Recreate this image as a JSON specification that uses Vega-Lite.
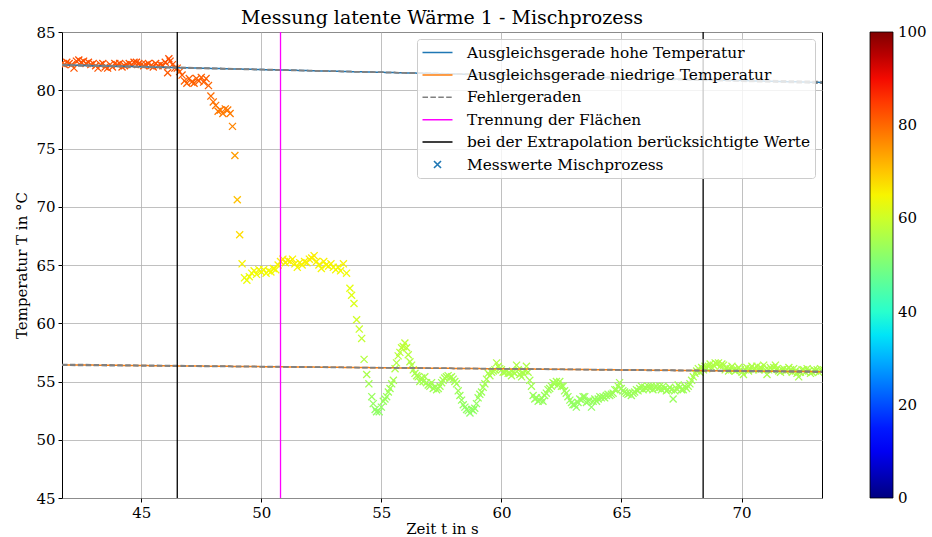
{
"$schema": "https://vega.github.io/schema/vega-lite/v6.json",
"width": 760, "height": 466,
"autosize": {"type": "none"},
"padding": {"left": 62, "top": 32, "right": 110, "bottom": 39},
"background": "white",
"title": {"text": "Messung latente Wärme 1 - Mischprozess", "font": "DejaVu Serif", "fontSize": 19, "fontWeight": "normal", "color": "black", "offset": -3, "frame": "group", "anchor": "middle"},
"datasets": {
"points": [
{"zeit":41.7,"temp":82.3},{"zeit":41.8,"temp":82.2},{"zeit":41.9,"temp":82.4},{"zeit":42.0,"temp":82.3},{"zeit":42.1,"temp":82.2},{"zeit":42.2,"temp":81.9},{"zeit":42.3,"temp":82.5},{"zeit":42.4,"temp":82.6},{"zeit":42.5,"temp":82.4},{"zeit":42.6,"temp":82.5},{"zeit":42.7,"temp":82.3},{"zeit":42.8,"temp":82.4},{"zeit":42.9,"temp":82.2},{"zeit":43.0,"temp":82.3},{"zeit":43.1,"temp":82.1},{"zeit":43.2,"temp":81.9},{"zeit":43.3,"temp":82.2},{"zeit":43.4,"temp":82.3},{"zeit":43.5,"temp":82.0},{"zeit":43.6,"temp":81.9},{"zeit":43.7,"temp":82.2},{"zeit":43.8,"temp":82.0},{"zeit":43.9,"temp":82.3},{"zeit":44.0,"temp":82.2},{"zeit":44.1,"temp":82.3},{"zeit":44.2,"temp":82.0},{"zeit":44.3,"temp":82.1},{"zeit":44.4,"temp":82.2},{"zeit":44.5,"temp":82.3},{"zeit":44.6,"temp":82.2},{"zeit":44.7,"temp":82.4},{"zeit":44.8,"temp":82.4},{"zeit":44.9,"temp":82.3},{"zeit":45.0,"temp":82.2},{"zeit":45.1,"temp":82.1},{"zeit":45.2,"temp":82.2},{"zeit":45.3,"temp":82.3},{"zeit":45.4,"temp":82.1},{"zeit":45.5,"temp":82.0},{"zeit":45.6,"temp":82.3},{"zeit":45.7,"temp":82.1},{"zeit":45.8,"temp":82.2},{"zeit":45.9,"temp":82.1},{"zeit":46.0,"temp":82.4},{"zeit":46.1,"temp":81.5},{"zeit":46.15,"temp":82.7},{"zeit":46.2,"temp":82.5},{"zeit":46.3,"temp":82.2},{"zeit":46.4,"temp":81.9},{"zeit":46.5,"temp":81.9},
{"zeit":46.6,"temp":81.6},{"zeit":46.7,"temp":81.3},{"zeit":46.8,"temp":80.8},{"zeit":46.9,"temp":80.6},{"zeit":47.0,"temp":81.0},{"zeit":47.1,"temp":80.7},{"zeit":47.2,"temp":80.6},{"zeit":47.3,"temp":81.0},{"zeit":47.4,"temp":80.8},{"zeit":47.5,"temp":81.1},{"zeit":47.6,"temp":80.7},{"zeit":47.7,"temp":81.0},{"zeit":47.8,"temp":80.4},{"zeit":47.9,"temp":79.5},{"zeit":48.0,"temp":79.0},{"zeit":48.1,"temp":78.7},{"zeit":48.2,"temp":78.2},{"zeit":48.3,"temp":78.3},{"zeit":48.4,"temp":78.0},{"zeit":48.5,"temp":78.4},{"zeit":48.6,"temp":78.3},{"zeit":48.7,"temp":78.0},{"zeit":48.8,"temp":76.9},{"zeit":48.9,"temp":74.4},{"zeit":49.0,"temp":70.6},{"zeit":49.1,"temp":67.6},{"zeit":49.2,"temp":65.1},
{"zeit":49.3,"temp":63.9},{"zeit":49.4,"temp":63.7},{"zeit":49.5,"temp":64.0},{"zeit":49.6,"temp":64.3},{"zeit":49.7,"temp":64.5},{"zeit":49.8,"temp":64.2},{"zeit":49.9,"temp":64.6},{"zeit":50.0,"temp":64.4},{"zeit":50.1,"temp":64.6},{"zeit":50.2,"temp":64.3},{"zeit":50.3,"temp":64.5},{"zeit":50.4,"temp":64.4},{"zeit":50.5,"temp":64.7},{"zeit":50.6,"temp":64.6},{"zeit":50.7,"temp":65.0},{"zeit":50.8,"temp":65.3},{"zeit":50.9,"temp":65.5},{"zeit":51.0,"temp":65.2},{"zeit":51.1,"temp":65.4},{"zeit":51.2,"temp":65.3},{"zeit":51.3,"temp":65.5},{"zeit":51.4,"temp":65.1},{"zeit":51.5,"temp":64.8},{"zeit":51.6,"temp":65.2},{"zeit":51.7,"temp":65.0},{"zeit":51.8,"temp":65.3},{"zeit":51.9,"temp":65.2},{"zeit":52.0,"temp":65.5},{"zeit":52.1,"temp":65.6},{"zeit":52.2,"temp":65.8},{"zeit":52.3,"temp":65.3},{"zeit":52.4,"temp":65.0},{"zeit":52.5,"temp":64.7},{"zeit":52.6,"temp":65.3},{"zeit":52.7,"temp":65.0},{"zeit":52.8,"temp":64.9},{"zeit":52.9,"temp":65.1},{"zeit":53.0,"temp":64.8},{"zeit":53.1,"temp":64.6},{"zeit":53.2,"temp":64.8},{"zeit":53.3,"temp":64.5},{"zeit":53.42,"temp":65.1},
{"zeit":53.55,"temp":64.3},{"zeit":53.69,"temp":63.0},{"zeit":53.76,"temp":62.4},{"zeit":53.86,"temp":61.7},{"zeit":53.97,"temp":60.3},{"zeit":54.08,"temp":59.5},{"zeit":54.18,"temp":58.7},{"zeit":54.28,"temp":56.9},{"zeit":54.39,"temp":55.6},{"zeit":54.48,"temp":54.8},{"zeit":54.6,"temp":53.7},{"zeit":54.66,"temp":53.1},{"zeit":54.74,"temp":52.6},{"zeit":54.8,"temp":52.4},{"zeit":54.91,"temp":52.4},{"zeit":55.0,"temp":52.8},{"zeit":55.08,"temp":53.3},{"zeit":55.15,"temp":53.5},{"zeit":55.22,"temp":53.7},{"zeit":55.29,"temp":54.1},{"zeit":55.36,"temp":54.4},{"zeit":55.43,"temp":54.8},{"zeit":55.5,"temp":55.1},{"zeit":55.57,"temp":56.1},{"zeit":55.63,"temp":56.6},{"zeit":55.7,"temp":57.2},{"zeit":55.77,"temp":57.5},{"zeit":55.84,"temp":57.9},{"zeit":55.91,"temp":58.0},{"zeit":55.98,"temp":58.3},{"zeit":56.05,"temp":57.9},{"zeit":56.12,"temp":57.3},{"zeit":56.19,"temp":56.7},{"zeit":56.26,"temp":56.4},{"zeit":56.33,"temp":56.0},{"zeit":56.4,"temp":55.7},{"zeit":56.47,"temp":55.5},{"zeit":56.53,"temp":55.4},{"zeit":56.6,"temp":55.0},{"zeit":56.68,"temp":55.3},{"zeit":56.74,"temp":55.0},{"zeit":56.81,"temp":55.4},{"zeit":56.88,"temp":54.9},{"zeit":56.95,"temp":54.7},{"zeit":57.02,"temp":54.6},{"zeit":57.09,"temp":54.9},{"zeit":57.16,"temp":54.4},{"zeit":57.23,"temp":54.5},{"zeit":57.3,"temp":54.3},{"zeit":57.37,"temp":54.4},{"zeit":57.44,"temp":54.6},{"zeit":57.51,"temp":54.9},{"zeit":57.57,"temp":55.1},{"zeit":57.64,"temp":55.3},{"zeit":57.71,"temp":55.4},{"zeit":57.78,"temp":55.5},{"zeit":57.85,"temp":55.3},{"zeit":57.92,"temp":55.4},{"zeit":57.99,"temp":55.2},{"zeit":58.06,"temp":55.0},{"zeit":58.13,"temp":54.8},{"zeit":58.2,"temp":54.2},{"zeit":58.27,"temp":53.8},{"zeit":58.34,"temp":53.4},{"zeit":58.41,"temp":53.0},{"zeit":58.48,"temp":52.8},{"zeit":58.55,"temp":52.6},{"zeit":58.62,"temp":52.5},{"zeit":58.69,"temp":52.3},{"zeit":58.76,"temp":52.6},{"zeit":58.83,"temp":52.5},{"zeit":58.89,"temp":52.7},{"zeit":58.96,"temp":53.1},{"zeit":59.03,"temp":53.6},{"zeit":59.1,"temp":53.9},{"zeit":59.17,"temp":54.1},{"zeit":59.24,"temp":54.5},{"zeit":59.31,"temp":54.8},{"zeit":59.38,"temp":55.2},{"zeit":59.45,"temp":55.7},{"zeit":59.52,"temp":55.5},{"zeit":59.59,"temp":55.8},{"zeit":59.66,"temp":55.9},{"zeit":59.73,"temp":56.0},{"zeit":59.8,"temp":56.6},{"zeit":59.87,"temp":56.3},{"zeit":59.93,"temp":56.1},{"zeit":60.0,"temp":56.0},{"zeit":60.07,"temp":55.8},{"zeit":60.14,"temp":55.8},{"zeit":60.21,"temp":55.9},{"zeit":60.28,"temp":55.7},{"zeit":60.35,"temp":55.7},{"zeit":60.42,"temp":55.5},{"zeit":60.49,"temp":55.8},{"zeit":60.56,"temp":55.7},{"zeit":60.63,"temp":56.4},{"zeit":60.7,"temp":56.0},{"zeit":60.77,"temp":55.6},{"zeit":60.84,"temp":55.4},{"zeit":60.91,"temp":55.7},{"zeit":60.98,"temp":55.9},{"zeit":61.04,"temp":56.3},{"zeit":61.11,"temp":55.8},{"zeit":61.18,"temp":55.1},{"zeit":61.25,"temp":54.6},{"zeit":61.32,"temp":53.8},{"zeit":61.39,"temp":53.5},{"zeit":61.46,"temp":53.6},{"zeit":61.53,"temp":53.3},{"zeit":61.6,"temp":53.4},{"zeit":61.67,"temp":53.6},{"zeit":61.73,"temp":53.3},{"zeit":61.8,"temp":53.8},{"zeit":61.87,"temp":54.0},{"zeit":61.94,"temp":54.3},{"zeit":62.01,"temp":54.4},{"zeit":62.08,"temp":54.6},{"zeit":62.15,"temp":54.9},{"zeit":62.22,"temp":54.8},{"zeit":62.29,"temp":55.0},{"zeit":62.36,"temp":54.7},{"zeit":62.43,"temp":55.0},{"zeit":62.5,"temp":54.6},{"zeit":62.57,"temp":54.6},{"zeit":62.63,"temp":54.2},{"zeit":62.7,"temp":54.0},{"zeit":62.77,"temp":53.7},{"zeit":62.85,"temp":53.4},{"zeit":62.92,"temp":53.2},{"zeit":62.98,"temp":53.0},{"zeit":63.05,"temp":53.0},{"zeit":63.12,"temp":52.8},{"zeit":63.19,"temp":53.2},{"zeit":63.26,"temp":53.5},{"zeit":63.33,"temp":53.4},{"zeit":63.4,"temp":53.7},{"zeit":63.47,"temp":53.7},{"zeit":63.54,"temp":53.2},{"zeit":63.61,"temp":53.3},{"zeit":63.68,"temp":53.4},{"zeit":63.75,"temp":52.8},{"zeit":63.82,"temp":53.3},{"zeit":63.89,"temp":53.5},{"zeit":63.96,"temp":53.3},{"zeit":64.03,"temp":53.5},{"zeit":64.1,"temp":53.7},{"zeit":64.16,"temp":53.6},{"zeit":64.23,"temp":53.7},{"zeit":64.3,"temp":53.6},{"zeit":64.37,"temp":53.8},{"zeit":64.44,"temp":53.9},{"zeit":64.51,"temp":53.8},{"zeit":64.58,"temp":53.9},{"zeit":64.65,"temp":54.0},{"zeit":64.72,"temp":54.3},{"zeit":64.79,"temp":54.3},{"zeit":64.86,"temp":54.6},{"zeit":64.92,"temp":54.9},{"zeit":64.99,"temp":54.4},{"zeit":65.06,"temp":54.2},{"zeit":65.13,"temp":54.1},{"zeit":65.2,"temp":54.0},{"zeit":65.27,"temp":53.9},{"zeit":65.34,"temp":54.0},{"zeit":65.41,"temp":53.8},{"zeit":65.48,"temp":54.0},{"zeit":65.55,"temp":54.1},{"zeit":65.62,"temp":54.3},{"zeit":65.69,"temp":54.2},{"zeit":65.76,"temp":54.4},{"zeit":65.83,"temp":54.6},{"zeit":65.9,"temp":54.3},{"zeit":65.97,"temp":54.5},{"zeit":66.04,"temp":54.4},{"zeit":66.11,"temp":54.6},{"zeit":66.18,"temp":54.4},{"zeit":66.24,"temp":54.6},{"zeit":66.31,"temp":54.3},{"zeit":66.38,"temp":54.5},{"zeit":66.45,"temp":54.6},{"zeit":66.52,"temp":54.4},{"zeit":66.59,"temp":54.6},{"zeit":66.66,"temp":54.3},{"zeit":66.73,"temp":54.6},{"zeit":66.8,"temp":54.4},{"zeit":66.87,"temp":54.2},{"zeit":66.94,"temp":54.3},{"zeit":67.01,"temp":54.5},{"zeit":67.08,"temp":54.3},{"zeit":67.15,"temp":53.5},{"zeit":67.22,"temp":54.2},{"zeit":67.29,"temp":54.4},{"zeit":67.36,"temp":54.7},{"zeit":67.43,"temp":54.5},{"zeit":67.5,"temp":54.3},{"zeit":67.57,"temp":54.3},{"zeit":67.64,"temp":54.6},{"zeit":67.71,"temp":54.4},{"zeit":67.78,"temp":54.6},{"zeit":67.85,"temp":54.8},{"zeit":67.92,"temp":55.1},{"zeit":67.99,"temp":55.4},{"zeit":68.06,"temp":55.7},{"zeit":68.13,"temp":55.9},{"zeit":68.2,"temp":56.1},{"zeit":68.27,"temp":55.8},{"zeit":68.34,"temp":56.2},{"zeit":68.41,"temp":56.0},{"zeit":68.48,"temp":56.3},{"zeit":68.55,"temp":56.1},{"zeit":68.62,"temp":56.3},{"zeit":68.69,"temp":56.5},{"zeit":68.76,"temp":56.2},{"zeit":68.83,"temp":56.4},{"zeit":68.9,"temp":56.6},{"zeit":68.97,"temp":56.5},{"zeit":69.04,"temp":56.6},{"zeit":69.11,"temp":56.3},{"zeit":69.18,"temp":56.5},{"zeit":69.25,"temp":56.4},{"zeit":69.32,"temp":56.0},{"zeit":69.39,"temp":56.2},{"zeit":69.46,"temp":55.9},{"zeit":69.53,"temp":56.1},{"zeit":69.6,"temp":56.3},{"zeit":69.67,"temp":56.0},{"zeit":69.74,"temp":55.9},{"zeit":69.81,"temp":56.0},{"zeit":69.88,"temp":56.2},{"zeit":69.95,"temp":56.0},{"zeit":70.02,"temp":55.8},{"zeit":70.08,"temp":55.6},{"zeit":70.15,"temp":56.0},{"zeit":70.22,"temp":56.2},{"zeit":70.29,"temp":55.9},{"zeit":70.36,"temp":56.1},{"zeit":70.43,"temp":56.3},{"zeit":70.5,"temp":56.0},{"zeit":70.57,"temp":56.1},{"zeit":70.64,"temp":56.3},{"zeit":70.71,"temp":56.0},{"zeit":70.78,"temp":56.2},{"zeit":70.85,"temp":56.1},{"zeit":70.92,"temp":56.4},{"zeit":70.99,"temp":56.0},{"zeit":71.06,"temp":55.6},{"zeit":71.13,"temp":56.0},{"zeit":71.2,"temp":56.2},{"zeit":71.27,"temp":56.0},{"zeit":71.34,"temp":56.2},{"zeit":71.41,"temp":56.4},{"zeit":71.48,"temp":56.1},{"zeit":71.55,"temp":55.9},{"zeit":71.62,"temp":55.8},{"zeit":71.69,"temp":56.0},{"zeit":71.76,"temp":56.1},{"zeit":71.83,"temp":55.9},{"zeit":71.9,"temp":56.0},{"zeit":71.97,"temp":56.2},{"zeit":72.04,"temp":56.0},{"zeit":72.11,"temp":55.8},{"zeit":72.17,"temp":56.1},{"zeit":72.24,"temp":55.9},{"zeit":72.31,"temp":55.7},{"zeit":72.38,"temp":55.4},{"zeit":72.45,"temp":55.8},{"zeit":72.52,"temp":56.0},{"zeit":72.59,"temp":56.0},{"zeit":72.66,"temp":55.8},{"zeit":72.73,"temp":56.1},{"zeit":72.8,"temp":55.9},{"zeit":72.87,"temp":55.7},{"zeit":72.94,"temp":55.8},{"zeit":73.01,"temp":56.0},{"zeit":73.08,"temp":55.9},{"zeit":73.15,"temp":56.0},{"zeit":73.22,"temp":55.8},{"zeit":73.29,"temp":56.1}
],
"fits": [
{"series":"Ausgleichsgerade hohe Temperatur","id":"h","zeit":41.7,"temp":82.17},
{"series":"Ausgleichsgerade hohe Temperatur","id":"h","zeit":73.35,"temp":80.67},
{"series":"Ausgleichsgerade niedrige Temperatur","id":"l","zeit":41.7,"temp":56.43},
{"series":"Ausgleichsgerade niedrige Temperatur","id":"l","zeit":73.35,"temp":55.84}
],
"errs": [
{"series":"Fehlergeraden","id":"e1","zeit":41.7,"temp":82.22},
{"series":"Fehlergeraden","id":"e1","zeit":73.35,"temp":80.6},
{"series":"Fehlergeraden","id":"e2","zeit":41.7,"temp":82.12},
{"series":"Fehlergeraden","id":"e2","zeit":73.35,"temp":80.74},
{"series":"Fehlergeraden","id":"e3","zeit":41.7,"temp":56.47},
{"series":"Fehlergeraden","id":"e3","zeit":73.35,"temp":55.8},
{"series":"Fehlergeraden","id":"e4","zeit":41.7,"temp":56.39},
{"series":"Fehlergeraden","id":"e4","zeit":73.35,"temp":55.88}
],
"vlines": [
{"series":"Trennung der Flächen","zeit":50.8},
{"series":"bei der Extrapolation berücksichtigte Werte","zeit":46.5},
{"series":"bei der Extrapolation berücksichtigte Werte","zeit":68.4}
]
},
"layer": [
{
"data": {"name": "points"},
"transform": [{"calculate": "'Messwerte Mischprozess'", "as": "series"}],
"mark": {"type": "point", "filled": false, "size": 225, "strokeWidth": 1.3, "opacity": 1, "clip": true},
"encoding": {
"x": {"field": "zeit", "type": "quantitative", "scale": {"domain": [41.7, 73.35], "nice": false, "zero": false}, "axis": {"values": [45,50,55,60,65,70], "format": "d", "title": "Zeit t in s", "labelPadding": 3, "titlePadding": 1}},
"y": {"field": "temp", "type": "quantitative", "scale": {"domain": [45, 85], "nice": false, "zero": false}, "axis": {"values": [45,50,55,60,65,70,75,80,85], "format": "d", "title": "Temperatur T in °C", "labelPadding": 3, "titlePadding": 6}},
"color": {"field": "temp", "type": "quantitative",
  "scale": {"domain": [0,11,12.5,34,35,37.5,50,64,65,66,89,91,100], "range": ["#000080","#0000ff","#0000ff","#00dbff","#00e5f7","#14ffe2","#7bff7b","#eeff08","#f7f500","#ffec00","#ff1300","#e80000","#800000"], "interpolate": "rgb"},
  "legend": {"type": "gradient", "title": null, "orient": "right", "offset": 48, "padding": 0, "fillColor": "transparent", "strokeColor": "transparent", "direction": "vertical", "gradientLength": 466, "gradientThickness": 23, "gradientStrokeColor": "black", "gradientStrokeWidth": 0.8, "values": [0.001,20,40,60,80,99.999], "format": "d", "labelOffset": 5, "labelOverlap": false, "labelFontSize": 15}},
"shape": {"field": "series", "type": "nominal",
  "scale": {"domain": ["Ausgleichsgerade hohe Temperatur","Ausgleichsgerade niedrige Temperatur","Fehlergeraden","Trennung der Flächen","bei der Extrapolation berücksichtigte Werte","Messwerte Mischprozess"], "range": ["M-2,0L2,0","M-2,0L2,0","M-2,0L2,0","M-2,0L2,0","M-2,0L2,0","M-0.47,-0.47L0.47,0.47M0.47,-0.47L-0.47,0.47"]},
  "legend": {"title": null}}
}
},
{
"data": {"name": "fits"},
"mark": {"type": "line", "strokeWidth": 1.5, "clip": true},
"encoding": {
"x": {"field": "zeit", "type": "quantitative"},
"y": {"field": "temp", "type": "quantitative"},
"detail": {"field": "id"},
"stroke": {"field": "series", "type": "nominal",
  "scale": {"domain": ["Ausgleichsgerade hohe Temperatur","Ausgleichsgerade niedrige Temperatur","Fehlergeraden","Trennung der Flächen","bei der Extrapolation berücksichtigte Werte","Messwerte Mischprozess"], "range": ["#1f77b4","#ff7f0e","#808080","#ff00ff","#000000","#1f77b4"]},
  "legend": {"title": null}},
"strokeDash": {"field": "series", "type": "nominal",
  "scale": {"domain": ["Ausgleichsgerade hohe Temperatur","Ausgleichsgerade niedrige Temperatur","Fehlergeraden","Trennung der Flächen","bei der Extrapolation berücksichtigte Werte","Messwerte Mischprozess"], "range": [[1,0],[1,0],[5.5,2.4],[1,0],[1,0],[1,0]]},
  "legend": {"title": null}}
}
},
{
"data": {"name": "errs"},
"mark": {"type": "line", "strokeWidth": 1.5, "clip": true},
"encoding": {
"x": {"field": "zeit", "type": "quantitative"},
"y": {"field": "temp", "type": "quantitative"},
"detail": {"field": "id"},
"stroke": {"field": "series", "type": "nominal"},
"strokeDash": {"field": "series", "type": "nominal"}
}
},
{
"data": {"name": "vlines"},
"mark": {"type": "rule", "strokeWidth": 1.3},
"encoding": {
"x": {"field": "zeit", "type": "quantitative"},
"stroke": {"field": "series", "type": "nominal"},
"strokeDash": {"field": "series", "type": "nominal"}
}
}
],
"config": {
"view": {"stroke": "black", "strokeWidth": 1},
"font": "DejaVu Serif",
"axis": {"labelFont": "DejaVu Serif", "labelFontSize": 15, "labelColor": "black", "titleFont": "DejaVu Serif", "titleFontSize": 15, "titleFontWeight": "normal", "titleColor": "black", "tickColor": "black", "tickSize": 4, "domain": false, "grid": true, "gridColor": "#b0b0b0", "gridWidth": 0.8, "gridOpacity": 1},
"legend": {"orient": "top-right", "offset": 7, "labelFont": "DejaVu Serif", "labelFontSize": 15.35, "labelColor": "black", "labelLimit": 500, "fillColor": "rgba(255,255,255,0.8)", "strokeColor": "#cccccc", "cornerRadius": 3, "padding": 5, "rowPadding": 5.4, "symbolSize": 225, "symbolStrokeWidth": 1.5, "symbolOffset": 7, "labelOffset": 21}
}
}
